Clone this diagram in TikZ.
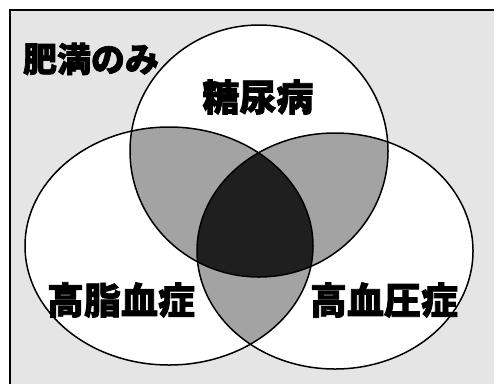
\documentclass[tikz,border=0pt]{standalone}
\usepackage{fontspec}
\newfontfamily\jpfont[BoldFeatures={FakeBold=2}]{Noto Sans CJK JP}
\definecolor{bgdots}{gray}{0.90}
\definecolor{twoset}{gray}{0.64}
\definecolor{threeset}{gray}{0.12}
\begin{document}
\begin{tikzpicture}[x=1pt,y=-1pt,
    setline/.style={draw=black,line width=1.5pt},
    vennlabel/.style={font=\jpfont\bfseries\fontsize{37}{37}\selectfont,inner sep=0pt}]
  \useasboundingbox (0,0) rectangle (494,384);
  % background and frame
  \fill[bgdots] (10,10) rectangle (494,384);
  \draw[line width=2pt] (10,384) -- (10,10) -- (494,10);

  \coordinate (tc) at (259,151);
  \coordinate (lc) at (169,246);
  \coordinate (rc) at (335,251);

  % sets
  \fill[white] (tc) ellipse [x radius=129pt,y radius=126pt];
  \fill[white] (lc) ellipse [x radius=144pt,y radius=119pt];
  \fill[white] (rc) ellipse [x radius=138pt,y radius=118pt];

  % overlaps of two
  \begin{scope}
    \clip (tc) ellipse [x radius=129pt,y radius=126pt];
    \fill[twoset] (lc) ellipse [x radius=144pt,y radius=119pt];
    \fill[twoset] (rc) ellipse [x radius=138pt,y radius=118pt];
  \end{scope}
  \begin{scope}
    \clip (lc) ellipse [x radius=144pt,y radius=119pt];
    \fill[twoset] (rc) ellipse [x radius=138pt,y radius=118pt];
  \end{scope}
  % overlap of all three
  \begin{scope}
    \clip (tc) ellipse [x radius=129pt,y radius=126pt];
    \clip (lc) ellipse [x radius=144pt,y radius=119pt];
    \fill[threeset] (rc) ellipse [x radius=138pt,y radius=118pt];
  \end{scope}

  \draw[setline] (tc) ellipse [x radius=129pt,y radius=126pt];
  \draw[setline] (lc) ellipse [x radius=144pt,y radius=119pt];
  \draw[setline] (rc) ellipse [x radius=138pt,y radius=118pt];

  % labels
  \node[vennlabel,font=\jpfont\bfseries\fontsize{34}{34}\selectfont] (obese) at (91,59) {肥満のみ};
  \node[vennlabel] (diabetes) at (258,97) {糖尿病};
  \node[vennlabel] (lipid) at (121,300) {高脂血症};
  \node[vennlabel] (pressure) at (384,300) {高血圧症};
\end{tikzpicture}
\end{document}
